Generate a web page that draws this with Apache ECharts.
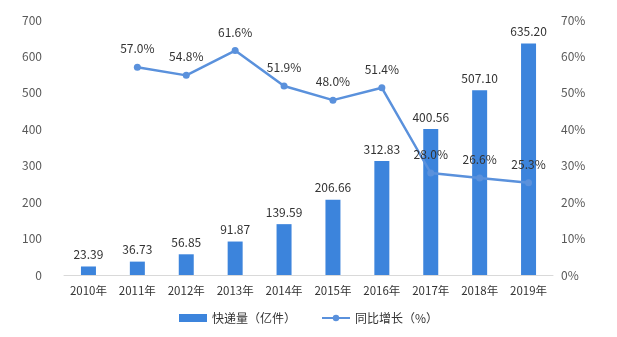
<!DOCTYPE html>
<html>
<head>
<meta charset="utf-8">
<script src="https://cdn.jsdelivr.net/npm/echarts@6/dist/echarts.min.js"></script>
<style>
  html, body { margin: 0; padding: 0; background: #fff; }
  #main { width: 617px; height: 337px; }
</style>
</head>
<body>
<div id="main"></div>
<script>
// 年份
var years = ['2010年', '2011年', '2012年', '2013年', '2014年', '2015年', '2016年', '2017年', '2018年', '2019年'];
// 快递量（亿件）
var volume = [23.39, 36.73, 56.85, 91.87, 139.59, 206.66, 312.83, 400.56, 507.10, 635.20];
// 同比增长（%）
var growth = [null, 57.0, 54.8, 61.6, 51.9, 48.0, 51.4, 28.0, 26.6, 25.3];

var chart = echarts.init(document.getElementById('main'));
var font = "'Noto Sans CJK SC', sans-serif";

var option = {
  animation: false,
  textStyle: { fontFamily: font },
  grid: {
    left: 64,
    right: 64,
    top: 20,
    bottom: 62
  },
  legend: {
    bottom: 8,
    left: 'center',
    itemGap: 25,
    itemWidth: 28,
    itemHeight: 8,
    textStyle: { fontSize: 12, color: '#333', fontFamily: font },
    data: [
      { name: '快递量（亿件）', icon: 'rect' },
      { name: '同比增长（%）' }
    ]
  },
  xAxis: {
    type: 'category',
    data: years,
    axisLine: { lineStyle: { color: '#d9d9d9' } },
    axisTick: { show: false },
    axisLabel: { color: '#333', fontSize: 11.5, margin: 10, interval: 0 }
  },
  yAxis: [{
    type: 'value',
    min: 0,
    max: 700,
    interval: 100,
    splitLine: { show: false },
    axisLine: { show: false },
    axisTick: { show: false },
    axisLabel: { color: '#595959', fontSize: 12, margin: 22 }
  }, {
    type: 'value',
    min: 0,
    max: 70,
    interval: 10,
    splitLine: { show: false },
    axisLine: { show: false },
    axisTick: { show: false },
    axisLabel: { color: '#595959', fontSize: 12, margin: 8, formatter: '{value}%' }
  }],
  series: [{
    name: '快递量（亿件）',
    type: 'bar',
    data: volume,
    barWidth: 15,
    itemStyle: { color: '#3c84dc' },
    label: {
      show: true,
      position: 'top',
      distance: 6,
      color: '#333',
      fontSize: 12,
      formatter: function (p) { return p.value.toFixed(2); }
    }
  }, {
    name: '同比增长（%）',
    type: 'line',
    yAxisIndex: 1,
    data: growth,
    symbol: 'circle',
    symbolSize: 7,
    lineStyle: { color: '#5a91dc', width: 2.5 },
    itemStyle: { color: '#5a91dc' },
    label: {
      show: true,
      position: 'top',
      distance: 9,
      color: '#333',
      fontSize: 12,
      formatter: function (p) { return p.value.toFixed(1) + '%'; }
    }
  }]
};

chart.setOption(option);
</script>
</body>
</html>
